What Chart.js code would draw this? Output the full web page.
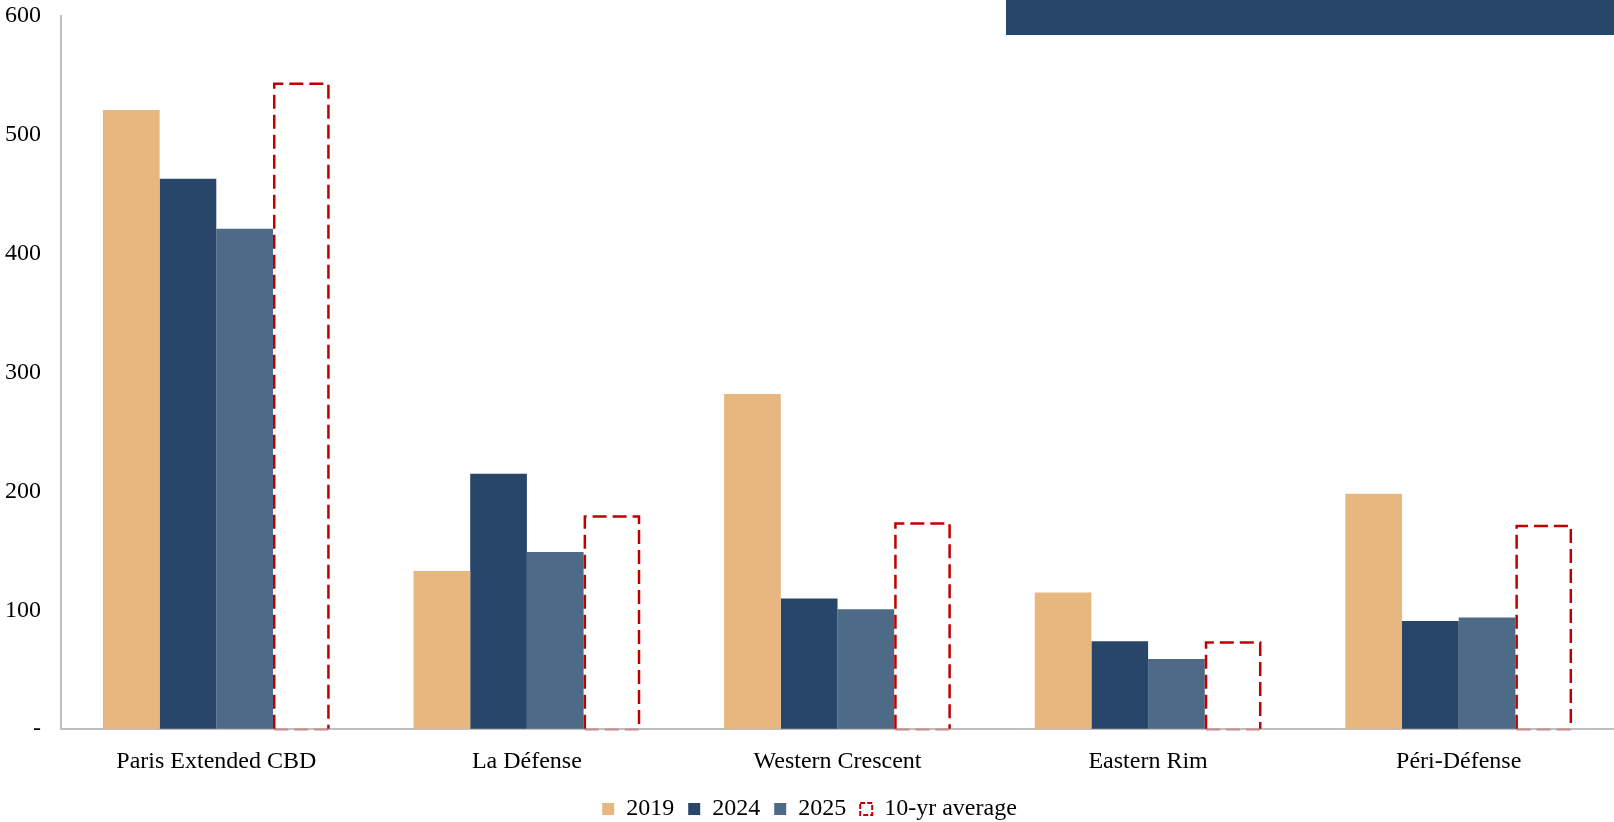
<!DOCTYPE html>
<html>
<head>
    <meta charset="utf-8">
    <script src="https://cdn.jsdelivr.net/npm/chart.js"></script>
    <style>
        html, body { margin: 0; padding: 0; background: #fff; }
        #wrap { position: relative; width: 1614px; height: 822px; }
        /* navy block in the top right corner */
        #topbar { position: absolute; left: 1006px; top: 0; width: 608px; height: 35px; background: #284669; }
    </style>
</head>
<body>
<div id="wrap">
    <canvas id="bar-chart"></canvas>
    <div id="topbar"></div>
</div>

<script>
    // data
    var categories = ['Paris Extended CBD', 'La Défense', 'Western Crescent', 'Eastern Rim', 'Péri-Défense'];
    var values2019 = [521, 133, 282, 115, 198];
    var values2024 = [463, 215, 110, 74, 91];
    var values2025 = [421, 149, 101, 59, 94];
    var valuesAvg = [544, 180, 174, 74, 172];
    var yTicks = [0, 100, 200, 300, 400, 500, 600];

    var serif = 'Liberation Serif';
    var red = '#C00000';

    // dashed outline for the 10-yr average bars
    var dashedOutline = {
        id: 'dashedOutline',
        afterDatasetsDraw: function(chart) {
            var meta = chart.getDatasetMeta(3);
            if (meta.hidden) return;
            var ctx = chart.ctx;
            var lw = 2.5;
            ctx.save();
            ctx.lineWidth = lw;
            ctx.setLineDash([14, 6]);
            meta.data.forEach(function(bar) {
                var p = bar.getProps(['x', 'y', 'base', 'width'], true);
                var l = p.x - p.width / 2 + lw / 2;
                var r = p.x + p.width / 2 - lw / 2;
                var t = p.y + lw / 2;
                ctx.strokeStyle = red;
                ctx.beginPath();
                ctx.moveTo(l, p.base);
                ctx.lineTo(l, t);
                ctx.lineTo(r, t);
                ctx.lineTo(r, p.base);
                ctx.stroke();
                // faint bottom edge under the axis line
                ctx.strokeStyle = 'rgba(192,0,0,0.25)';
                ctx.beginPath();
                ctx.moveTo(l, p.base + 1);
                ctx.lineTo(r, p.base + 1);
                ctx.stroke();
            });
            ctx.restore();
        }
    };

    var ctx = document.getElementById('bar-chart').getContext('2d');
    var myChart = new Chart(ctx, {
        type: 'bar',
        data: {
            labels: categories,
            datasets: [
                { label: '2019', data: values2019, backgroundColor: '#E8B77F', borderWidth: 0 },
                { label: '2024', data: values2024, backgroundColor: '#284669', borderWidth: 0 },
                { label: '2025', data: values2025, backgroundColor: '#4D6A87', borderWidth: 0 },
                { label: '10-yr average', data: valuesAvg, backgroundColor: 'rgba(0,0,0,0)', borderColor: red, borderWidth: 0 }
            ]
        },
        options: {
            responsive: true,
            maintainAspectRatio: false,
            animation: false,
            layout: { padding: { top: 0, left: 5, right: 0, bottom: -9 } },
            datasets: {
                bar: { categoryPercentage: 0.73, barPercentage: 1.0 }
            },
            scales: {
                x: {
                    grid: { drawOnChartArea: false, drawTicks: false },
                    border: { color: '#BFBFBF', width: 2 },
                    ticks: { font: { family: serif, size: 24 }, color: '#000', padding: 18 },
                    afterFit: function(scale) { scale.height -= 11; }
                },
                y: {
                    min: 0,
                    max: 600,
                    afterBuildTicks: function(scale) {
                        scale.ticks = yTicks.map(function(v) { return { value: v }; });
                    },
                    grid: { drawOnChartArea: false, drawTicks: false },
                    border: { color: '#BFBFBF', width: 2 },
                    ticks: {
                        font: { family: serif, size: 24 },
                        color: '#000',
                        padding: 20,
                        callback: function(v) { return v === 0 ? '-' : v; }
                    },
                    afterFit: function(scale) {
                        scale.width -= 20;
                        scale.paddingTop = 16;
                        scale.paddingBottom = 0;
                    }
                }
            },
            plugins: {
                tooltip: { enabled: false },
                legend: {
                    position: 'bottom',
                    labels: {
                        font: { family: serif, size: 24 },
                        color: '#000',
                        boxWidth: 12,
                        boxHeight: 12,
                        padding: 14,
                        generateLabels: function(chart) {
                            var items = Chart.defaults.plugins.legend.labels.generateLabels(chart);
                            items.forEach(function(it) {
                                it.lineWidth = 0;
                                if (it.datasetIndex === 3) {
                                    it.fillStyle = 'rgba(0,0,0,0)';
                                    it.strokeStyle = red;
                                    it.lineWidth = 2;
                                    it.lineDash = [5, 2];
                                }
                            });
                            return items;
                        }
                    }
                }
            }
        },
        plugins: [dashedOutline]
    });
</script>

</body>
</html>
